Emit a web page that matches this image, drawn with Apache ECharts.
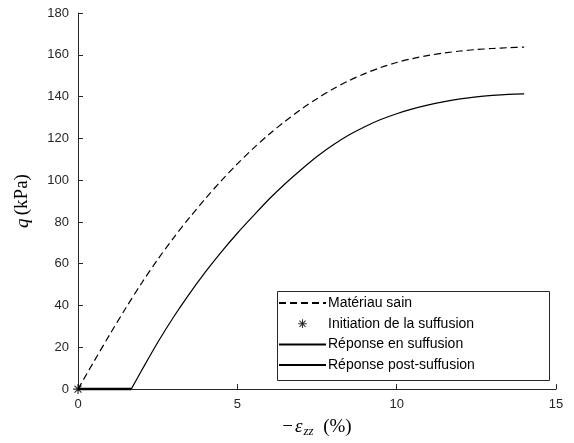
<!DOCTYPE html>
<html>
<head>
<meta charset="utf-8">
<script src="https://cdn.jsdelivr.net/npm/echarts@6/dist/echarts.min.js"></script>
<style>
html,body{margin:0;padding:0;background:#fff;}
#chart{width:574px;height:443px;}
</style>
</head>
<body>
<div id="chart"></div>
<script>
// ---- data ----
const seriesNames = ['Matériau sain', 'Initiation de la suffusion', 'Réponse en suffusion', 'Réponse post-suffusion'];

const strainSain = [0, 0.5, 1, 1.5, 2, 2.5, 3, 3.5, 4, 4.5, 5, 5.5, 6, 6.5, 7, 7.5, 8, 8.5, 9, 9.5, 10, 10.5, 11, 11.5, 12, 12.5, 13, 13.5, 14];
const qSain = [0, 13.2, 26.2, 38.8, 50.8, 62, 72.4, 82.1, 91.2, 99.8, 107.8, 115.2, 122, 128.2, 133.9, 139.0, 143.6, 147.6, 151.0, 153.9, 156.3, 158.2, 159.7, 160.9, 161.8, 162.5, 163.0, 163.4, 163.7];

const strainInit = [0];
const qInit = [0];

const strainEnSuffusion = [0, 1.67];
const qEnSuffusion = [0, 0];

const strainPost = [1.67, 2, 2.5, 3, 3.5, 4, 4.5, 5, 5.5, 6, 6.5, 7, 7.5, 8, 8.5, 9, 9.5, 10, 10.5, 11, 11.5, 12, 12.5, 13, 13.5, 14];
const qPost = [0, 9, 22.3, 34.5, 45.7, 56.1, 65.7, 74.6, 82.9, 91.0, 98.3, 105.0, 111.3, 116.8, 121.6, 125.6, 129.0, 131.8, 134.1, 136.0, 137.6, 138.9, 139.9, 140.6, 141.1, 141.3];

const xTicks = {min: 0, max: 15, interval: 5};
const yTicks = {min: 0, max: 180, interval: 20};

// ---- helpers ----
const pairs = (xs, ys) => xs.map((x, i) => [x, ys[i]]);
const AXIS = '#262626';
const starArms = 'M-5,-0.6 L5,-0.6 L5,0.6 L-5,0.6 Z M0.6,-5 L0.6,5 L-0.6,5 L-0.6,-5 Z ' +
  'M-3.08,-3.92 L3.92,3.08 L3.08,3.92 L-3.92,-3.08 Z M-3.92,3.08 L3.08,-3.92 L3.92,-3.08 L-3.08,3.92 Z';
const starSymbol = 'path://' + starArms;
const starLegend = 'path://M-8,-8 L-8,-8 Z M8,8 L8,8 Z ' + starArms;
const hiddenSymbol = {color: 'rgba(0,0,0,0)', borderWidth: 0, opacity: 0};

const chart = echarts.init(document.getElementById('chart'));
chart.setOption({
  backgroundColor: '#fff',
  animation: false,
  grid: {left: 78, right: 18, top: 13, bottom: 52},
  xAxis: {
    type: 'value', min: xTicks.min, max: xTicks.max, interval: xTicks.interval,
    splitLine: {show: false},
    axisLine: {lineStyle: {color: AXIS, width: 1}},
    axisTick: {inside: true, length: 5, lineStyle: {color: AXIS}},
    axisLabel: {color: AXIS, fontSize: 13, fontFamily: 'Liberation Sans', margin: 9},
    name: '{m|−}{e|ε}{s|zz}{n|  (%)}',
    nameLocation: 'middle', nameGap: 23,
    nameTextStyle: {
      rich: {
        m: {fontFamily: 'Liberation Serif', fontSize: 19, color: '#000', padding: [0, 2, 0, 0]},
        e: {fontFamily: 'Liberation Serif', fontStyle: 'italic', fontSize: 19, color: '#000'},
        s: {fontFamily: 'Liberation Serif', fontStyle: 'italic', fontSize: 13, color: '#000', lineHeight: 13, padding: [9, 0, 0, 1]},
        n: {fontFamily: 'Liberation Serif', fontSize: 19, color: '#000'}
      }
    }
  },
  yAxis: {
    type: 'value', min: yTicks.min, max: yTicks.max, interval: yTicks.interval,
    splitLine: {show: false},
    axisLine: {show: true, lineStyle: {color: AXIS, width: 1}},
    axisTick: {show: true, inside: true, length: 5, lineStyle: {color: AXIS}},
    axisLabel: {color: AXIS, fontSize: 13, fontFamily: 'Liberation Sans', margin: 9},
    name: '{i|q} {n|(kPa)}',
    nameLocation: 'middle', nameGap: 46,
    nameTextStyle: {
      rich: {
        i: {fontFamily: 'Liberation Serif', fontStyle: 'italic', fontSize: 19, color: '#000'},
        n: {fontFamily: 'Liberation Serif', fontSize: 19, color: '#000'}
      }
    }
  },
  legend: {
    orient: 'vertical', left: 276, top: 290,
    padding: [6, 4, 6, 2],
    itemWidth: 47, itemHeight: 14, itemGap: 6.7,
    textStyle: {fontFamily: 'Liberation Sans', fontSize: 14, color: '#000', padding: [0, 0, 0, -3]},
    data: [
      {name: seriesNames[0], itemStyle: hiddenSymbol},
      {name: seriesNames[1], icon: starLegend},
      {name: seriesNames[2], itemStyle: hiddenSymbol},
      {name: seriesNames[3], itemStyle: hiddenSymbol}
    ]
  },
  graphic: [{
    type: 'rect', left: 275, top: 289, z: 100,
    shape: {width: 272, height: 89},
    style: {fill: 'none', stroke: '#262626', lineWidth: 1}
  }],
  series: [
    {
      name: seriesNames[0], type: 'line', data: pairs(strainSain, qSain),
      symbol: 'none', smooth: 0.3,
      lineStyle: {color: '#000', width: 1.2, type: [7, 4]},
      itemStyle: {color: '#000'}
    },
    {
      name: seriesNames[2], type: 'line', data: pairs(strainEnSuffusion, qEnSuffusion),
      symbol: 'none', z: 3,
      lineStyle: {color: '#000', width: 2.6},
      itemStyle: {color: '#000'}
    },
    {
      name: seriesNames[3], type: 'line', data: pairs(strainPost, qPost),
      symbol: 'none', smooth: 0.3,
      lineStyle: {color: '#000', width: 1.2},
      itemStyle: {color: '#000'}
    },
    {
      name: seriesNames[1], type: 'scatter', data: pairs(strainInit, qInit),
      symbol: starSymbol, symbolSize: 10, z: 5,
      itemStyle: {color: '#000'}
    }
  ]
});
</script>
</body>
</html>
